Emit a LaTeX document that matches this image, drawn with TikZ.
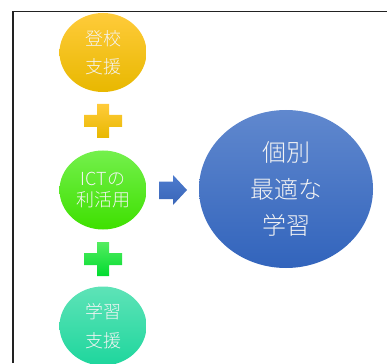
\documentclass[tikz,border=0pt]{standalone}
\usepackage{fontspec}
\IfFontExistsTF{Noto Sans CJK JP Light}
  {\newfontfamily\cjk{Noto Sans CJK JP Light}}
  {\newfontfamily\cjk{Noto Sans CJK JP}}
\usetikzlibrary{shapes.geometric}
\definecolor{orT}{HTML}{FFCB3A}
\definecolor{orM}{HTML}{FFC600}
\definecolor{orB}{HTML}{E8B800}
\definecolor{grT}{HTML}{74F04C}
\definecolor{grB}{HTML}{3EE000}
\definecolor{tlT}{HTML}{5EE3B7}
\definecolor{tlB}{HTML}{1ED69D}
\definecolor{blT}{HTML}{6088CE}
\definecolor{blB}{HTML}{3264BC}
\definecolor{arT}{HTML}{4D7BCE}
\definecolor{arB}{HTML}{3A66B8}
\definecolor{gpT}{HTML}{55EC60}
\definecolor{gpB}{HTML}{00DC30}
\definecolor{frame}{HTML}{222222}
\definecolor{txt}{HTML}{F4F4F4}
\tikzset{
  blob/.style={ellipse, inner sep=0pt, text=txt, align=center},
  small/.style={blob, minimum width=87pt, minimum height=79pt},
}
\begin{document}
\begin{tikzpicture}[x=1pt,y=-1pt]
\useasboundingbox (0,0) rectangle (387,363);
\draw[frame, line width=1.1pt] (13,363) -- (13,11.5) -- (387,11.5);
\node[small, top color=orT, middle color=orM, bottom color=orB,
  font=\cjk\fontsize{18}{28}\selectfont] (tokou) at (103,52.5) {登校\\支援};
\node[small, top color=grT, bottom color=grB,
  font=\cjk\fontsize{18}{20.5}\selectfont] (ict) at (103,190) {ICTの\\利活用};
\node[small, top color=tlT, bottom color=tlB,
  font=\cjk\fontsize{18}{29}\selectfont] (gakushu) at (103,326) {学習\\支援};
\node[blob, minimum width=174pt, minimum height=158pt, top color=blT, bottom color=blB,
  font=\cjk\fontsize{24}{36.5}\selectfont] (saiteki) at (286,189) {個別\\最適な\\学習};
% plus signs
\shade[top color=orT, bottom color=orB]
  (97,104) -- (109,104) -- (109,115) -- (122,115) -- (122,127) -- (109,127)
  -- (109,138) -- (97,138) -- (97,127) -- (84,127) -- (84,115) -- (97,115) -- cycle;
\shade[top color=gpT, bottom color=gpB]
  (97,242) -- (109,242) -- (109,253) -- (122,253) -- (122,265) -- (109,265)
  -- (109,276) -- (97,276) -- (97,265) -- (84,265) -- (84,253) -- (97,253) -- cycle;
% block arrow
\shade[top color=arT, bottom color=arB]
  (159,181.5) -- (173,181.5) -- (173,175) -- (187,190) -- (173,205) -- (173,199)
  -- (159,199) -- cycle;
\end{tikzpicture}
\end{document}
